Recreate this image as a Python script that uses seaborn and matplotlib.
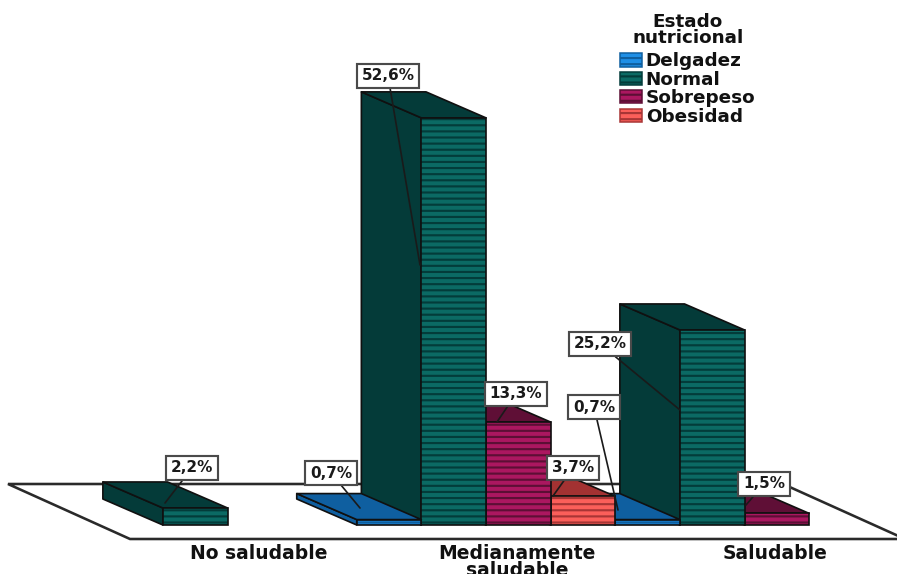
import matplotlib
matplotlib.use("Agg")
import matplotlib.pyplot as plt
import pandas as pd
import seaborn as sns
from matplotlib.patches import Polygon, Rectangle

# Percentages by diet quality and nutritional status
categories = ["No saludable", "Medianamente\nsaludable", "Saludable"]
statuses = ["Delgadez", "Normal", "Sobrepeso", "Obesidad"]
record_category = [categories[0], categories[1], categories[1], categories[1], categories[1], categories[2], categories[2], categories[2]]
record_status = ["Normal", "Delgadez", "Normal", "Sobrepeso", "Obesidad", "Delgadez", "Normal", "Sobrepeso"]
record_value = [2.2, 0.7, 52.6, 13.3, 3.7, 0.7, 25.2, 1.5]

# Face colours per status: striped front, stripes, shaded top and side
front_colors = {"Delgadez": "#1f8fe6", "Normal": "#0b6a64", "Sobrepeso": "#ab1760", "Obesidad": "#fb5f5a"}
stripe_colors = {"Delgadez": "#0f5f9f", "Normal": "#033c3a", "Sobrepeso": "#5c0f35", "Obesidad": "#a83535"}
shade_colors = {"Delgadez": "#0f5fa0", "Normal": "#043b39", "Sobrepeso": "#5f0f36", "Obesidad": "#a33232"}

# Canvas layout in pixels
WIDTH, HEIGHT, DPI = 897, 574, 110
BASE_PX, AXES_BOTTOM_PX = 525, 541
FIRST_X_PX, X_UNIT_PX, Y_UNIT_PX = 227.5, 258.5, 7.74
DEPTH_X_PX, DEPTH_Y_PX = 60, 26
INK = "#101010"


def to_data(px, py):
    return (px - FIRST_X_PX) / X_UNIT_PX, (BASE_PX - py) / Y_UNIT_PX


# Value-label boxes and the leader-line ends, in the same order as the records
label_box_px = [(192, 468), (331, 473), (388, 76), (516, 394), (573, 468), (594, 407), (600, 344), (764, 484)]
label_end_px = [(165, 503), (360, 508), (420, 265), (497, 422), (553, 496), (618, 510), (680, 410), (746, 505)]

sns.set_style("white")
plt.rcParams["font.family"] = ["DejaVu Sans"]
plt.rcParams["hatch.linewidth"] = 1.4

frame = pd.DataFrame({"Dieta": record_category, "Estado": record_status, "Porcentaje": record_value})

fig = plt.figure(figsize=(WIDTH / DPI, HEIGHT / DPI), dpi=DPI)
ax = fig.add_axes([0, 1 - AXES_BOTTOM_PX / HEIGHT, 1, AXES_BOTTOM_PX / HEIGHT])
sns.barplot(
    data=frame, x="Dieta", y="Porcentaje", hue="Estado",
    order=categories, hue_order=statuses, palette=front_colors, saturation=1,
    width=1.0, gap=0, errorbar=None, legend=True, ax=ax,
)
ax.set_xlim(to_data(0, 0)[0], to_data(WIDTH, 0)[0])
ax.set_ylim(to_data(0, AXES_BOTTOM_PX)[1], to_data(0, 0)[1])
ax.patch.set_alpha(0)
sns.despine(ax=ax, left=True, bottom=True, top=True, right=True)
ax.set_xlabel("")
ax.set_ylabel("")
ax.set_yticks([])
ax.set_xticks([i + 31 / X_UNIT_PX for i in range(len(categories))])
ax.set_xticklabels(categories, fontsize=12.3, fontweight="bold", color="#111111", linespacing=0.85)
ax.tick_params(axis="x", length=0, pad=2)

# Floor plane under the bars
floor_corners = [to_data(8, 484), to_data(783, 484), to_data(905, 539), to_data(130, 539)]
ax.add_patch(Polygon(floor_corners, closed=True, facecolor="white", edgecolor="#2a2a2a",
                     linewidth=1.7, zorder=0.5, clip_on=True))

# Extrude every bar backwards; bars further left are painted last so they overlap correctly
depth_x = DEPTH_X_PX / X_UNIT_PX
depth_y = DEPTH_Y_PX / Y_UNIT_PX
bars = []
for status, container in zip(statuses, ax.containers):
    bars.extend((bar, status) for bar in container)
bars.sort(key=lambda item: -item[0].get_x())

for rank, (bar, status) in enumerate(bars):
    z = 2 + rank * 0.1
    x0, w, h = bar.get_x(), bar.get_width(), bar.get_height()
    side = [(x0, 0), (x0, h), (x0 - depth_x, h + depth_y), (x0 - depth_x, depth_y)]
    top = [(x0, h), (x0 + w, h), (x0 + w - depth_x, h + depth_y), (x0 - depth_x, h + depth_y)]
    for face in (side, top):
        ax.add_patch(Polygon(face, closed=True, facecolor=shade_colors[status],
                             edgecolor=INK, linewidth=1.1, joinstyle="round", zorder=z))
    bar.set_hatch("---")
    bar.set_edgecolor(stripe_colors[status])
    bar.set_linewidth(0)
    bar.set_zorder(z + 0.01)
    ax.add_patch(Rectangle((x0, 0), w, h, facecolor="none", edgecolor=INK, linewidth=1.1, zorder=z + 0.02))

# Value labels with leader lines
for value, box, end in zip(record_value, label_box_px, label_end_px):
    text = f"{value:.1f}%".replace(".", ",")
    ax.annotate(
        text, xy=to_data(*end), xytext=to_data(*box), ha="center", va="center",
        fontsize=10, fontweight="bold", color="#1a1a1a", zorder=5,
        bbox=dict(boxstyle="square,pad=0.3", facecolor="white", edgecolor="#4a4a4a", linewidth=1.4),
        arrowprops=dict(arrowstyle="-", color="#1a1a1a", linewidth=1.1, shrinkA=0, shrinkB=0),
    )

# Legend with the same striped swatches
for handle, status in zip(ax.get_legend().legend_handles, statuses):
    handle.set_hatch("---")
    handle.set_edgecolor(stripe_colors[status])
sns.move_legend(
    ax, "upper left", bbox_to_anchor=(620 / WIDTH, 1 - 13 / HEIGHT), bbox_transform=fig.transFigure,
    title="Estado\nnutricional", frameon=False, fontsize=12,
    title_fontproperties={"weight": "bold", "size": 12},
    labelspacing=0.02, handlelength=1.2, handleheight=0.72, handletextpad=0.2, borderpad=0, borderaxespad=0,
)
legend = ax.get_legend()
legend._legend_box.sep = 3.6
legend.get_title().set_linespacing(0.85)
legend.get_title().set_multialignment("center")
legend.get_title().set_color("#111111")
legend.set_zorder(6)
for label in legend.get_texts():
    label.set_fontweight("bold")
    label.set_color("#111111")

fig.savefig("out.png", dpi=DPI, facecolor="white")
